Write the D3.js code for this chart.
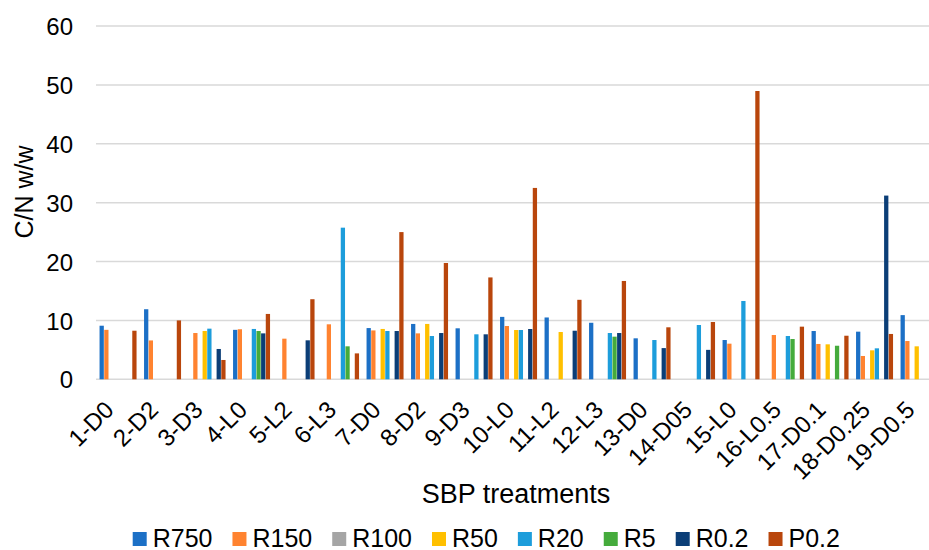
<!DOCTYPE html>
<html>
<head>
<meta charset="utf-8">
<script src="https://cdn.jsdelivr.net/npm/d3@7"></script>
<style>
  body { margin: 0; background: #fff; }
  svg { display: block; font-family: "Liberation Sans", Arial, sans-serif; }
</style>
</head>
<body>
<div id="d3"></div>
<script>
const categories = ["1-D0", "2-D2", "3-D3", "4-L0", "5-L2", "6-L3", "7-D0", "8-D2", "9-D3", "10-L0",
  "11-L2", "12-L3", "13-D0", "14-D05", "15-L0", "16-L0.5", "17-D0.1", "18-D0.25", "19-D0.5"];

const seriesNames = ["R750", "R150", "R100", "R50", "R20", "R5", "R0.2", "P0.2"];
const seriesColors = ["#1c70c6", "#ff8330", "#a5a5a5", "#ffc000", "#1d9ddb", "#45ab3c", "#0b3e77", "#b9460c"];

const r750 = [9.1, 11.9, null, 8.4, null, null, 8.7, 9.4, 8.66, 10.6, 10.5, 9.6, 6.96, null, 6.67, null, 8.2, 8.09, 10.9];
const r150 = [8.4, 6.6, 7.86, 8.5, 6.9, 9.34, 8.3, 7.8, null, 9.05, null, null, null, null, 6.05, 7.52, 6.0, 3.96, 6.5];
const r100 = [null, null, null, null, null, null, null, null, null, null, null, null, null, null, null, null, null, null, null];
const r50 = [null, null, 8.2, null, null, null, 8.55, 9.4, null, 8.37, 8.03, null, null, null, null, null, 5.94, 4.92, 5.6];
const r20 = [null, null, 8.6, 8.55, null, 25.75, 8.2, 7.35, 7.64, 8.37, null, 7.86, 6.67, 9.22, 13.3, 7.35, null, 5.26, null];
const r5 = [null, null, null, 8.2, null, 5.6, null, null, null, null, null, 7.24, null, null, null, 6.84, 5.7, null, null];
const r02 = [null, null, 5.15, 7.8, 6.62, null, 8.2, 7.86, 7.64, 8.54, 8.25, 7.86, 5.3, 5.0, null, null, null, 31.2, null];
const p02 = [8.25, 10.0, 3.28, 11.1, 13.6, 4.4, 25.0, 19.75, 17.3, 32.5, 13.5, 16.7, 8.83, 9.73, 48.96, 8.94, 7.4, 7.7, null];

const yTicks = [0, 10, 20, 30, 40, 50, 60];

const seriesValues = [r750, r150, r100, r50, r20, r5, r02, p02];

const width = 929;
const height = 550;
// the plot runs a bit past the right edge of the picture, like the original crop
const plot = { left: 96, right: 941.5, top: 26, bottom: 379.3 };

const svg = d3
  .select("#d3")
  .append("svg")
  .attr("width", width)
  .attr("height", height);

const x0 = d3.scaleBand().domain(categories).range([plot.left, plot.right]).padding(0);
const x1 = d3
  .scaleBand()
  .domain(seriesNames)
  .range([0, x0.bandwidth()])
  .paddingInner(0)
  .paddingOuter(0.76);
const y = d3.scaleLinear().domain([0, 60]).range([plot.bottom, plot.top]);

// gridlines
svg
  .append("g")
  .selectAll("line")
  .data(yTicks)
  .join("line")
  .attr("x1", plot.left)
  .attr("x2", plot.right)
  .attr("y1", (d) => y(d))
  .attr("y2", (d) => y(d))
  .attr("stroke", "#d9d9d9")
  .attr("stroke-width", 1.5);

// y axis labels
const yAxis = svg
  .append("g")
  .attr("transform", `translate(${plot.left - 23},0)`)
  .call(d3.axisLeft(y).tickValues(yTicks).tickSize(0).tickPadding(0));
yAxis.select(".domain").remove();
yAxis.selectAll("text").style("font-size", "24px").attr("fill", "#000").attr("dy", "0.36em");

// bars
const rows = [];
seriesNames.forEach((s, i) => {
  seriesValues[i].forEach((v, j) => {
    if (v !== null) rows.push({ series: s, cat: categories[j], value: v, color: seriesColors[i] });
  });
});

svg
  .append("g")
  .selectAll("rect")
  .data(rows)
  .join("rect")
  .attr("x", (d) => x0(d.cat) + x1(d.series))
  .attr("y", (d) => y(d.value))
  .attr("width", x1.bandwidth() - 0.4)
  .attr("height", (d) => y(0) - y(d.value))
  .attr("fill", (d) => d.color);

// x axis labels
const xAxis = svg
  .append("g")
  .attr("transform", `translate(0,${plot.bottom})`)
  .call(d3.axisBottom(x0).tickSize(0).tickPadding(0));
xAxis.select(".domain").remove();
xAxis
  .selectAll("text")
  .style("font-size", "24px")
  .attr("fill", "#000")
  .attr("text-anchor", "end")
  .attr("y", 0)
  .attr("dy", 0)
  .attr("transform", "translate(-3,32) rotate(-45)");

// axis titles
svg
  .append("text")
  .attr("x", 516)
  .attr("y", 503)
  .attr("text-anchor", "middle")
  .style("font-size", "27px")
  .text("SBP treatments");

svg
  .append("text")
  .attr("transform", "translate(33,192) rotate(-90)")
  .attr("text-anchor", "middle")
  .style("font-size", "25px")
  .text("C/N w/w");

// legend
const legend = svg.append("g");
let lx = 132.7;
seriesNames.forEach((s, i) => {
  legend
    .append("rect")
    .attr("x", lx)
    .attr("y", 532)
    .attr("width", 14)
    .attr("height", 14)
    .attr("fill", seriesColors[i]);
  const t = legend
    .append("text")
    .attr("x", lx + 20)
    .attr("y", 546.5)
    .style("font-size", "25px")
    .text(s);
  lx += 20 + t.node().getComputedTextLength() + 20;
});
</script>
</body>
</html>
